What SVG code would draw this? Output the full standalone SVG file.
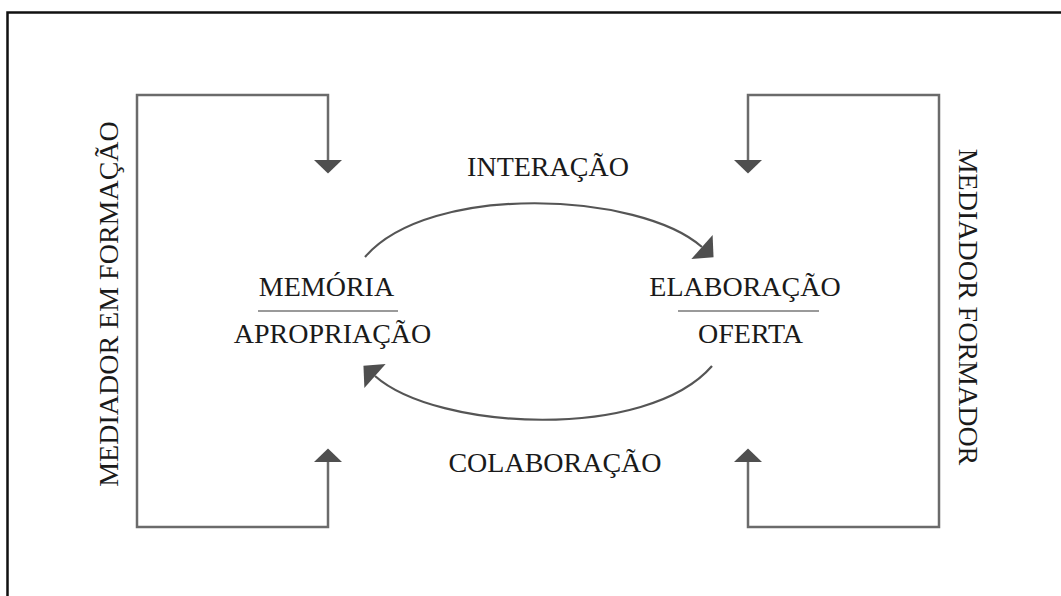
<svg xmlns="http://www.w3.org/2000/svg" width="1061" height="596" viewBox="0 0 1061 596">
  <style>
    .lbl { font-family: "Liberation Serif", "Times New Roman", serif; font-size: 28px; fill: #1a1a1a; text-anchor: middle; }
    .bracket { fill: none; stroke: #6b6b6b; stroke-width: 2.5; }
    .arc { fill: none; stroke: #555555; stroke-width: 2.2; }
    .rule { stroke: #9a9a9a; stroke-width: 2; }
    .head { fill: #4f4f4f; }
  </style>
  <defs>
    <marker id="tri" markerUnits="userSpaceOnUse" markerWidth="20" markerHeight="32" refX="0" refY="14" viewBox="0 0 14 28" orient="auto" overflow="visible">
      <path class="head" d="M0,0 L13.5,14 L0,28 Z"/>
    </marker>
  </defs>

  <rect width="1061" height="596" fill="#ffffff"/>
  <!-- outer frame -->
  <path d="M7.5,600 L7.5,12.5 L1065,12.5" fill="none" stroke="#111111" stroke-width="2.5"/>

  <g id="connectors">
    <!-- left bracket -->
    <path class="bracket" d="M328,160 L328,95 L137,95 L137,527 L328,527 L328,462"/>
    <polygon class="head" points="314,160 342,160 328,173.5"/>
    <polygon class="head" points="314,462 342,462 328,448.5"/>
    <!-- right bracket -->
    <path class="bracket" d="M748,160 L748,95 L939,95 L939,527 L748,527 L748,462"/>
    <polygon class="head" points="734,160 762,160 748,173.5"/>
    <polygon class="head" points="734,462 762,462 748,448.5"/>
    <!-- interaction arc -->
    <path class="arc" d="M365,257 C430,182 640,192 702,247" marker-end="url(#tri)"/>
    <!-- collaboration arc -->
    <path class="arc" d="M712,366 C647,441 437,431 375,376" marker-end="url(#tri)"/>
  </g>

  <g id="mediador-em-formacao">
    <text class="lbl" transform="translate(118,304) rotate(-90)">MEDIADOR EM FORMAÇÃO</text>
  </g>
  <g id="mediador-formador">
    <text class="lbl" transform="translate(959,307) rotate(90)">MEDIADOR FORMADOR</text>
  </g>
  <g id="interacao">
    <text class="lbl" x="548" y="176">INTERAÇÃO</text>
  </g>
  <g id="colaboracao">
    <text class="lbl" x="555" y="472">COLABORAÇÃO</text>
  </g>
  <g id="memoria-apropriacao">
    <text class="lbl" x="326.5" y="296">MEMÓRIA</text>
    <line class="rule" x1="258" y1="311" x2="398" y2="311"/>
    <text class="lbl" x="332.5" y="343">APROPRIAÇÃO</text>
  </g>
  <g id="elaboracao-oferta">
    <text class="lbl" x="745" y="296">ELABORAÇÃO</text>
    <line class="rule" x1="678" y1="311" x2="819" y2="311"/>
    <text class="lbl" x="750.5" y="343">OFERTA</text>
  </g>
</svg>
